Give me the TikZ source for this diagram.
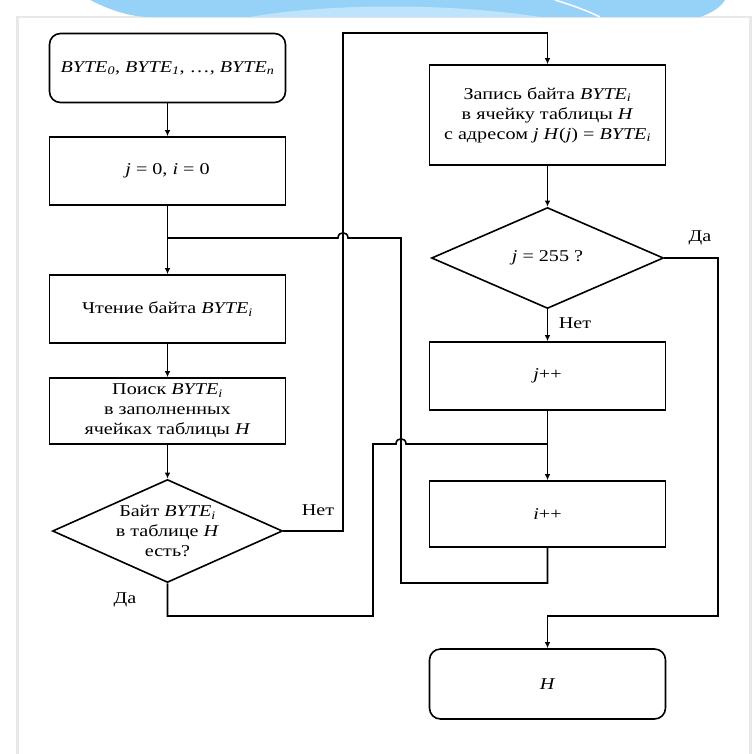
\documentclass[tikz,border=0pt]{standalone}
\usepackage{fontspec}
\setmainfont{Liberation Serif}[FakeStretch=1.22]
\usetikzlibrary{shapes.geometric,arrows.meta}
\definecolor{band}{RGB}{150,210,248}
\definecolor{bandlt}{RGB}{190,228,252}
\newcommand{\bt}[1]{\textit{BYTE}\textsubscript{\textit{#1}}}
\begin{document}
\begin{tikzpicture}[x=1pt,y=-1pt,
  every node/.style={font=\fontsize{16.5}{20}\selectfont, align=center, inner sep=0pt},
  blk/.style={draw, rectangle, line width=1.6pt, minimum width=236pt},
  term/.style={draw, rectangle, rounded corners=11pt, line width=1.6pt, minimum width=236pt},
  dec/.style={draw, diamond, line width=1.6pt, shape aspect=2.2, inner sep=0pt},
  ln/.style={line width=1.6pt},
  arr/.style={line width=1.6pt, -{Latex[length=6pt,width=5.5pt]}},
  lbl/.style={font=\fontsize{16.5}{18}\selectfont}]
% background
\useasboundingbox (0,0) rectangle (755,753);
\fill[white] (0,0) rectangle (755,753);
\fill[gray!18] (16,16) rectangle (752,760);
\fill[white] (19,18) rectangle (749,760);
\fill[band] (90,0) .. controls (110,10) and (130,17) .. (150,17) -- (700,17) .. controls (715,12) and (722,5) .. (725,0) -- cycle;
\fill[bandlt] (250,17) .. controls (330,3) and (450,3) .. (540,17) -- cycle;
\draw[white, line width=1.5pt] (555,0) .. controls (575,6) and (590,12) .. (600,17);
% nodes
\node[term, minimum height=69pt] (start) at (167.5,68) {\bt{0}, \bt{1}, \ldots, \bt{n}};
\node[blk, minimum height=68pt] (init) at (167.5,171) {\textit{j} = 0, \textit{i} = 0};
\node[blk, minimum height=68pt] (read) at (167.5,309) {Чтение байта \bt{i}};
\node[blk, minimum height=66pt] (search) at (167.5,411) {Поиск \bt{i}\\в заполненных\\ячейках таблицы \textit{H}};
\node[dec, minimum width=230pt, minimum height=103pt] (found) at (167.5,531) {Байт \bt{i}\\в таблице \textit{H}\\есть?};
\node[blk, minimum height=100pt] (write) at (547.5,115) {Запись байта \bt{i}\\в ячейку таблицы \textit{H}\\с адресом \textit{j} \textit{H}(\textit{j}) = \bt{i}};
\node[dec, minimum width=232pt, minimum height=101pt] (check) at (547.5,258) {\textit{j} = 255 ?};
\node[blk, minimum height=68pt] (jpp) at (547.5,376) {\textit{j}++};
\node[blk, minimum height=66pt] (ipp) at (547.5,514) {\textit{i}++};
\node[term, minimum height=70pt] (fin) at (547.5,684) {\textit{H}};
% coordinates
\coordinate (c1) at (343,33);
\coordinate (c2) at (718,616);
\coordinate (c3) at (373,616);
\coordinate (c4) at (373,444);
\coordinate (c5) at (401,583);
\coordinate (m1) at (167.5,238);
\coordinate (m2) at (547.5,444);
% labels
\node[lbl] (l1) at (318,510) {Нет};
\node[lbl] (l2) at (700,238) {Да};
\node[lbl] (l3) at (575,323) {Нет};
\node[lbl] (l4) at (125,600) {Да};
% connectors
\draw[arr] (start.south) -- (init.north);
\draw[arr] (init.south) -- (read.north);
\draw[arr] (read.south) -- (search.north);
\draw[arr] (search.south) -- (found.north);
\draw[arr] (found.east) -| (c1) -| (write.north);
\draw[arr] (write.south) -- (check.north);
\draw[arr] (check.east) -| (c2) -| (fin.north);
\draw[arr] (check.south) -- (jpp.north);
\draw[arr] (jpp.south) -- (ipp.north);
\draw[ln] (found.south) |- (c3) -- (c4) -- (396,444) .. controls (396,437) and (406,437) .. (406,444) -- (m2);
\draw[ln] (ipp.south) |- (c5) -- (401,238) -- (348,238) .. controls (348,231) and (338,231) .. (338,238) -- (m1);
\end{tikzpicture}
\end{document}
